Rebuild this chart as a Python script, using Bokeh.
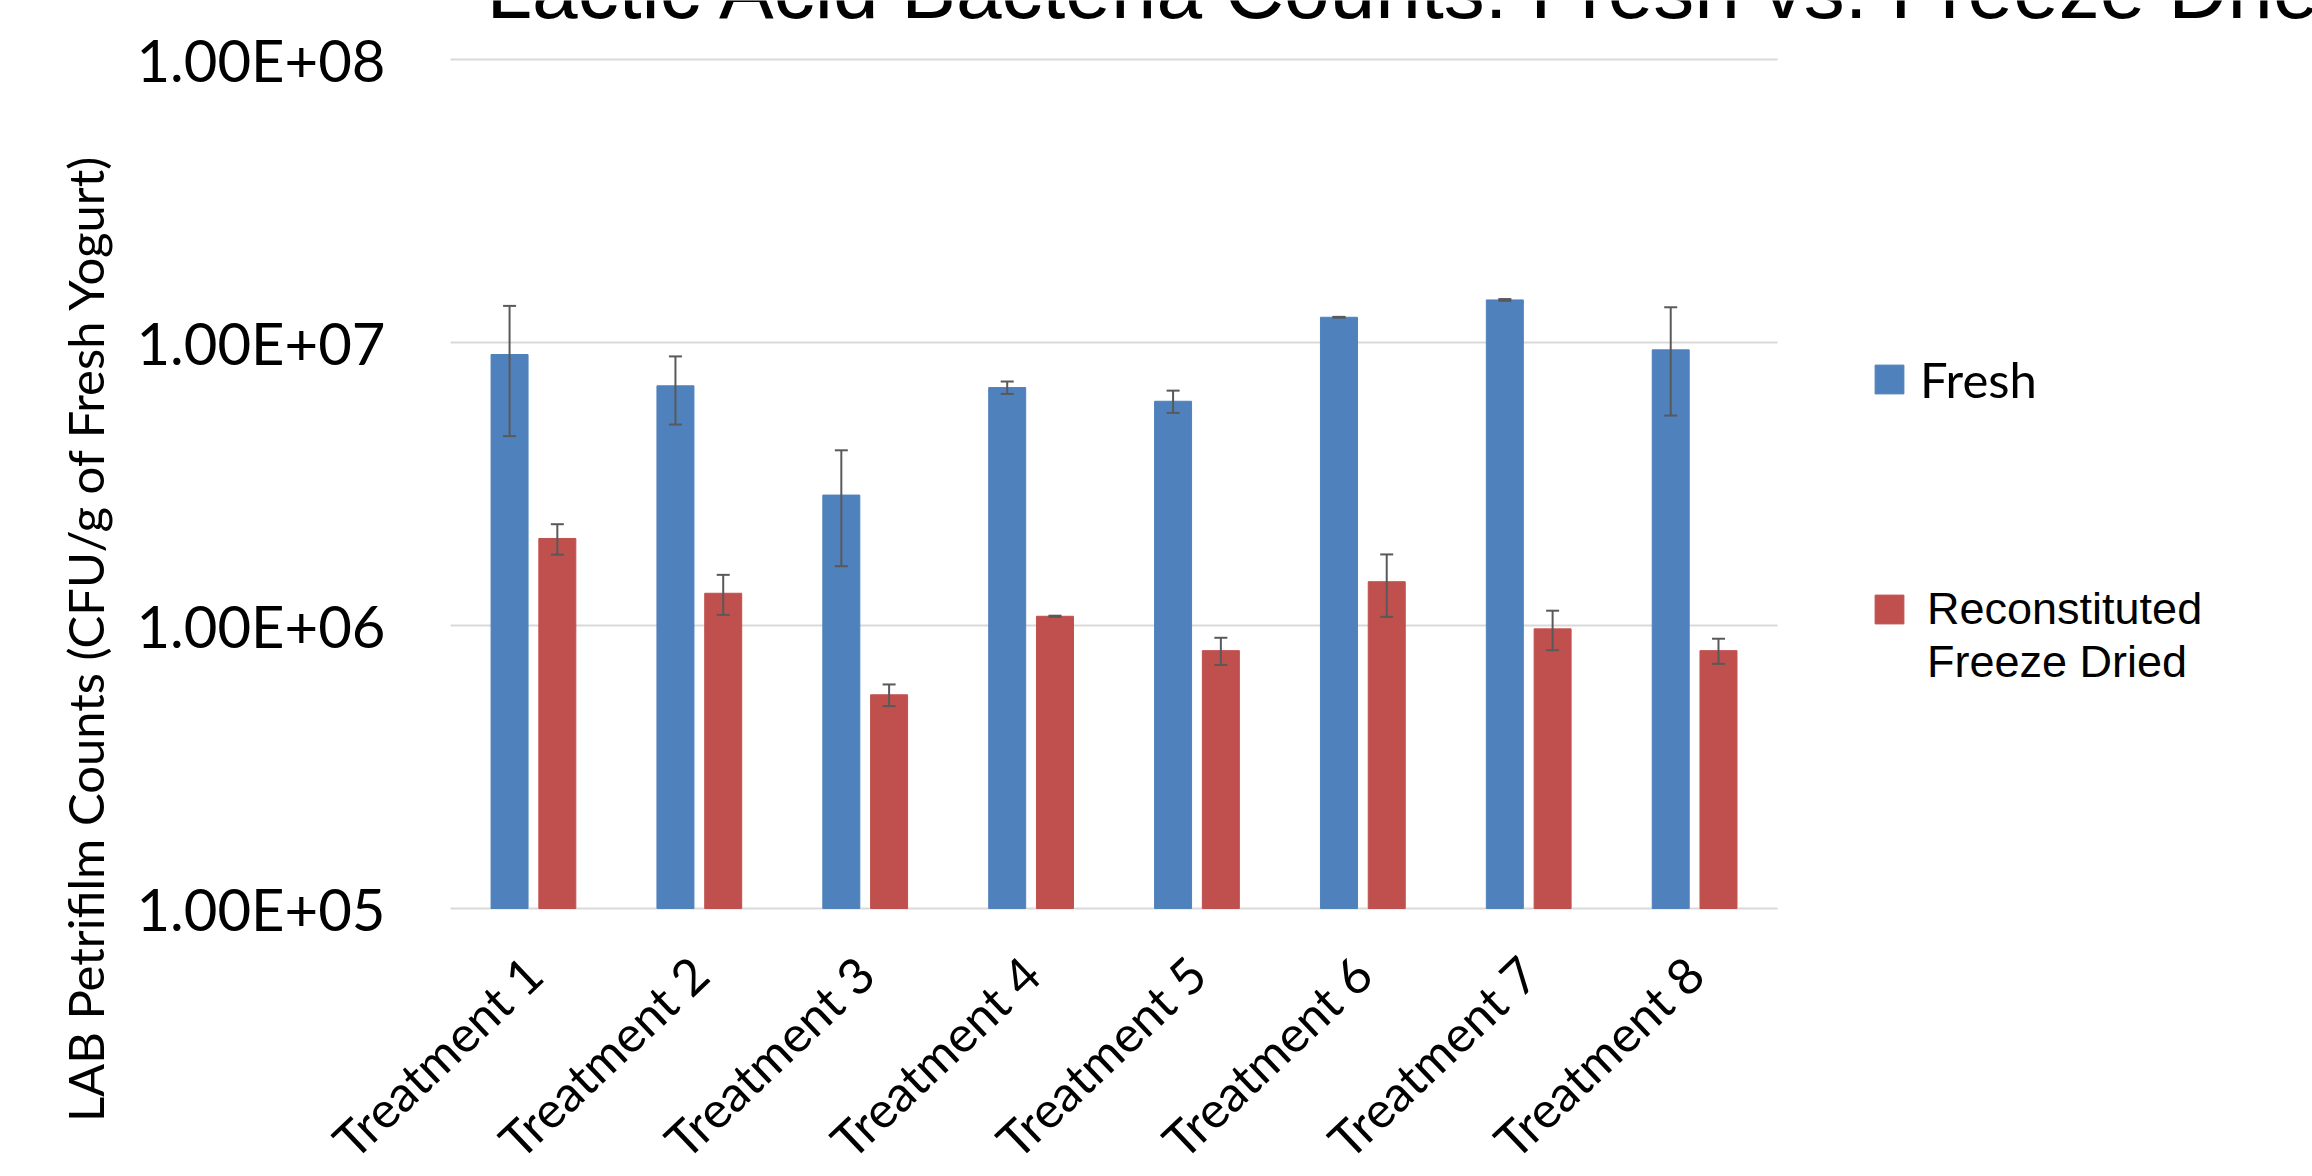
from math import pi
from bokeh.plotting import figure
from bokeh.models import (Range1d, ColumnDataSource, Whisker, TeeHead,
                          FixedTicker, Label, Legend, LegendItem)
from bokeh.embed import file_html
from bokeh.resources import INLINE

# ---------------- data ----------------
categories = ["Treatment 1", "Treatment 2", "Treatment 3", "Treatment 4",
              "Treatment 5", "Treatment 6", "Treatment 7", "Treatment 8"]
fresh = [9.07e6, 7.03e6, 2.89e6, 6.93e6, 6.20e6, 1.228e7, 1.414e7, 9.42e6]
fresh_err = [4.40e6, 1.90e6, 1.27e6, 0.35e6, 0.56e6, 0.04e6, 0.10e6, 3.90e6]
dried = [2.03e6, 1.30e6, 5.69e5, 1.078e6, 8.15e5, 1.428e6, 9.73e5, 8.15e5]
dried_err = [2.5e5, 2.1e5, 5.0e4, 5.0e3, 9.0e4, 3.55e5, 1.55e5, 8.3e4]

ytick_values = [1e5, 1e6, 1e7, 1e8]
ytick_labels = ["1.00E+05", "1.00E+06", "1.00E+07", "1.00E+08"]
series_labels = ["Fresh", "Reconstituted\nFreeze Dried"]
title_text = "Lactic Acid Bacteria Counts: Fresh vs. Freeze Dried"
ylabel_text = "LAB Petrifilm Counts (CFU/g of Fresh Yogurt)"

BLUE = "#4F81BD"
RED = "#C0504D"
ERR = "#595959"
GRID = "#d9d9d9"

n = len(categories)
centers = [i + 0.5 for i in range(n)]
OFF = 0.144
BW = 0.223
BASE = ytick_values[0]

src = ColumnDataSource(dict(
    xf=[c - OFF for c in centers],
    xd=[c + OFF for c in centers],
    fresh=fresh,
    fresh_up=[v + e for v, e in zip(fresh, fresh_err)],
    fresh_lo=[v - e for v, e in zip(fresh, fresh_err)],
    dried=dried,
    dried_up=[v + e for v, e in zip(dried, dried_err)],
    dried_lo=[v - e for v, e in zip(dried, dried_err)],
))

W, H = 2312, 1176
# The frame covers the whole canvas; both axes are drawn at fixed
# locations (x = 0, y = 1e5) so that nothing of them gets clipped.
p = figure(width=W, height=H, x_range=Range1d(-2.7129, 11.225),
           y_axis_type="log", y_range=Range1d(10 ** 4.053, 10 ** 8.2085),
           output_backend="svg", toolbar_location=None,
           min_border_left=0, min_border_right=0,
           min_border_top=0, min_border_bottom=0)
p.title.visible = False
p.outline_line_color = None
p.background_fill_color = "white"
p.border_fill_color = "white"
p.xgrid.grid_line_color = None
p.ygrid.grid_line_color = None

# horizontal gridlines across the category area only
p.segment(x0=[0] * len(ytick_values), x1=[n] * len(ytick_values),
          y0=ytick_values, y1=ytick_values, line_color=GRID, line_width=2)

r_fresh = p.vbar(x="xf", top="fresh", bottom=BASE, width=BW, source=src,
                 fill_color=BLUE, line_color=BLUE)
r_dried = p.vbar(x="xd", top="dried", bottom=BASE, width=BW, source=src,
                 fill_color=RED, line_color=RED)
# invisible renderer used for the second legend line
r_blank = p.vbar(x=[], top=[], bottom=BASE, width=BW,
                 fill_alpha=0, line_alpha=0)

for key, xcol in (("fresh", "xf"), ("dried", "xd")):
    w = Whisker(base=xcol, upper=key + "_up", lower=key + "_lo", source=src,
                dimension="height", line_color=ERR, line_width=2, level="overlay",
                upper_head=TeeHead(size=13, line_color=ERR, line_width=2),
                lower_head=TeeHead(size=13, line_color=ERR, line_width=2))
    p.add_layout(w)

# y axis (drawn at x = 0, the left end of the category area)
ya = p.yaxis[0]
ya.ticker = FixedTicker(ticks=ytick_values, minor_ticks=[])
ya.major_label_overrides = dict(zip(ytick_values, ytick_labels))
ya.fixed_location = 0
ya.axis_line_color = None
ya.major_tick_line_color = None
ya.minor_tick_line_color = None
ya.major_tick_out = 0
ya.major_tick_in = 0
ya.major_label_standoff = 65
ya.major_label_text_font = "Lato"
ya.major_label_text_font_size = "58px"
ya.major_label_text_color = "black"

# x axis (drawn at y = 1e5, the base of the bars)
xa = p.xaxis[0]
xa.ticker = FixedTicker(ticks=centers, minor_ticks=[])
xa.major_label_overrides = dict(zip(centers, categories))
xa.fixed_location = BASE
xa.axis_line_color = None
xa.major_tick_line_color = None
xa.minor_tick_line_color = None
xa.major_tick_out = 0
xa.major_tick_in = 0
xa.major_label_orientation = 0.76
xa.major_label_standoff = 57
xa.major_label_text_font = "Lato"
xa.major_label_text_font_size = "50px"
xa.major_label_text_color = "black"

# y axis title
p.add_layout(Label(x=-2.2065, y=10 ** 5.9559, text=ylabel_text, angle=pi / 2,
                   text_font="Lato", text_font_size="49px", text_color="black",
                   text_align="center", text_baseline="middle"))

# chart title (cut by the top of the canvas, as in the reference)
p.add_layout(Label(x=0.217, y=10 ** 8.2473, text=title_text,
                   text_font="Liberation Sans", text_font_size="82px",
                   text_color="black", text_baseline="alphabetic", text_align="left"))

# legends (locations are measured from the bottom-left of the frame)
common = dict(glyph_width=36, glyph_height=36, padding=0, margin=0, spacing=0,
              border_line_color=None, background_fill_alpha=0,
              label_text_color="black")
leg1 = Legend(items=[LegendItem(label=series_labels[0], renderers=[r_fresh])],
              location=(1421 + 450, 500 + 268), label_standoff=13, label_height=59,
              label_text_font="Lato", label_text_font_size="49px", **common)
lines2 = series_labels[1].split("\n")
leg2 = Legend(items=[LegendItem(label=lines2[0], renderers=[r_dried]),
                     LegendItem(label=lines2[1], renderers=[r_blank])],
              location=(1421 + 450, 220 + 268), label_standoff=20, label_height=53,
              label_text_font="Liberation Sans", label_text_font_size="45px",
              **common)
p.add_layout(leg1)
p.add_layout(leg2)

open("out.html", "w").write(file_html(p, INLINE))
